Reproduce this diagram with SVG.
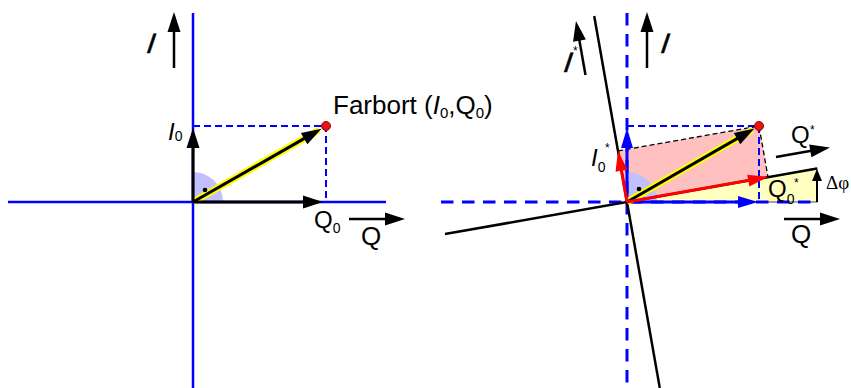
<svg xmlns="http://www.w3.org/2000/svg" width="851" height="388" viewBox="0 0 851 388">
<style>
.t{font-family:"Liberation Sans",Arial,sans-serif;fill:#000}
.it{font-style:italic}
.big{font-size:28px;stroke:#000;stroke-width:0.6}
.ser{font-family:"Liberation Serif","Times New Roman",serif;fill:#000}
.axis{stroke:#0000ff;stroke-width:2.5;fill:none}
.daxis{stroke:#0000ff;stroke-width:3;stroke-dasharray:12.5 8.5;fill:none}
.drect{stroke:#0000ff;stroke-width:2;stroke-dasharray:7 4;fill:none}
.rot{stroke:#000;stroke-width:2.5;fill:none}
.bdash{stroke:#000;stroke-width:1.3;stroke-dasharray:5 3;fill:none}
.ak{stroke:#000;stroke-width:3;fill:none;marker-end:url(#mk)}
.al{stroke:#000;stroke-width:2.5;fill:none;marker-end:url(#mk)}
.ab{stroke:#0000ff;stroke-width:3;fill:none;marker-end:url(#mb)}
.ar{stroke:#ff0000;stroke-width:3;fill:none;marker-end:url(#mr)}
.halo{stroke:#ffff00;stroke-width:7;fill:none}
.pie{fill:#c0c0ff}
.dot{fill:#ee1111;stroke:#990000;stroke-width:1}
</style>
<defs>
<marker id="mk" markerUnits="userSpaceOnUse" markerWidth="20" markerHeight="13" refX="14" refY="6.5" orient="auto" overflow="visible"><path d="M0,0 L20,6.5 L0,13 z" fill="#000"/></marker>
<marker id="mb" markerUnits="userSpaceOnUse" markerWidth="20" markerHeight="12" refX="14" refY="6" orient="auto" overflow="visible"><path d="M0,0 L20,6 L0,12 z" fill="#0000ff"/></marker>
<marker id="mr" markerUnits="userSpaceOnUse" markerWidth="20" markerHeight="12" refX="14" refY="6" orient="auto" overflow="visible"><path d="M0,0 L20,6 L0,12 z" fill="#ff0000"/></marker>
<marker id="ms" markerUnits="userSpaceOnUse" markerWidth="12" markerHeight="10" refX="8" refY="5" orient="auto" overflow="visible"><path d="M0,0 L12,5 L0,10 z" fill="#000"/></marker>
</defs>
<rect width="851" height="388" fill="#fff"/>

<g id="left-diagram">
  <g id="left-angle">
    <path class="pie" d="M193,202 L223,202 A30,30 0 0 0 193,172 z"/>
  </g>
  <g id="left-axes">
    <line class="axis" x1="193" y1="13" x2="193" y2="388"/>
    <line class="axis" x1="8" y1="202" x2="386" y2="202"/>
    <polyline class="drect" points="193,126 326,126 326,202"/>
  </g>
  <g id="left-connectors">
    <line class="halo" x1="193" y1="202" x2="319" y2="130"/>
    <line class="ak" x1="193" y1="202" x2="316.3" y2="131.6"/>
    <line class="ak" x1="193" y1="202" x2="193" y2="134"/>
    <line class="ak" x1="193" y1="202" x2="317" y2="202"/>
    <line class="al" x1="174" y1="68" x2="174" y2="18"/>
    <line class="al" x1="349" y1="219" x2="399" y2="219"/>
  </g>
  <g id="left-farbort">
    <circle class="dot" cx="326" cy="126" r="4.5"/>
    <circle cx="205" cy="190" r="2.3" fill="#000"/>
  </g>
  <g id="left-labels">
    <text class="t it big" transform="translate(146,53) skewX(-8)">I</text>
    <text class="t" x="168" y="140" font-size="24"><tspan class="it">I</tspan><tspan font-size="14" dy="1">0</tspan></text>
    <text class="t" x="314" y="228" font-size="24">Q<tspan font-size="14" dy="5">0</tspan></text>
    <text class="t" x="361" y="245" font-size="26">Q</text>
    <text class="t" x="333" y="114" font-size="26">Farbort (<tspan class="it">I</tspan><tspan font-size="15" dy="4">0</tspan><tspan dy="-4">,Q</tspan><tspan font-size="15" dy="4">0</tspan><tspan dy="-4">)</tspan></text>
  </g>
</g>

<g id="right-diagram">
  <g id="right-areas">
    <polygon points="627,202 618,150.9 759,126 768,177.1" fill="#ffc0c0"/>
    <polygon points="627,202 817,168.5 817,202" fill="#ffffc0" stroke="#888" stroke-width="1.5"/>
    <path class="pie" d="M627,202 L657,202 A30,30 0 0 0 627,172 z"/>
  </g>
  <g id="right-axes">
    <line class="daxis" x1="627" y1="13" x2="627" y2="388"/>
    <line class="daxis" x1="441" y1="202" x2="819" y2="202"/>
    <polyline class="drect" points="627,126 759,126 759,202"/>
    <line class="rot" x1="594.2" y1="16" x2="659.8" y2="388"/>
    <line class="rot" x1="445" y1="234.1" x2="817" y2="168.5"/>
    <polyline class="bdash" points="618,150.9 759,126 768,177.1"/>
  </g>
  <g id="right-connectors">
    <line class="ab" x1="627" y1="202" x2="627" y2="134"/>
    <line class="ab" x1="627" y1="202" x2="752" y2="202"/>
    <line class="halo" x1="627" y1="202" x2="752" y2="130"/>
    <line class="ak" x1="627" y1="202" x2="749.2" y2="131.6"/>
    <line class="ar" x1="627" y1="202" x2="762.1" y2="178.1"/>
    <line class="ar" x1="627" y1="202" x2="619" y2="156.8"/>
    <line stroke="#000" stroke-width="2" marker-end="url(#ms)" x1="817" y1="202" x2="817" y2="173"/>
    <line class="al" x1="647" y1="68" x2="647" y2="18"/>
    <line class="al" x1="585.5" y1="75" x2="577" y2="26.9"/>
    <line class="al" x1="776" y1="157" x2="824.1" y2="148.5"/>
    <line class="al" x1="784" y1="219" x2="834" y2="219"/>
  </g>
  <g id="right-farbort">
    <circle class="dot" cx="759" cy="126" r="4.5"/>
    <circle cx="639" cy="189" r="2.3" fill="#000"/>
  </g>
  <g id="right-labels">
    <text class="t it big" transform="translate(660,53) skewX(-8)">I</text>
    <text class="t it big" transform="translate(563,72) skewX(-8)">I</text>
    <text class="t" x="573" y="55" font-size="12">*</text>
    <text class="t" x="591" y="166" font-size="24"><tspan class="it">I</tspan><tspan font-size="14" dy="6">0</tspan></text>
    <text class="t" x="605" y="152" font-size="12">*</text>
    <text class="t" x="791" y="143" font-size="24">Q</text>
    <text class="t" x="810" y="134" font-size="12">*</text>
    <text class="t" x="768" y="197" font-size="24">Q<tspan font-size="14" dy="7">0</tspan></text>
    <text class="t" x="794" y="187" font-size="12">*</text>
    <text class="ser" x="826" y="189" font-size="19">Δφ</text>
    <text class="t" x="791" y="243" font-size="26">Q</text>
  </g>
</g>
</svg>
